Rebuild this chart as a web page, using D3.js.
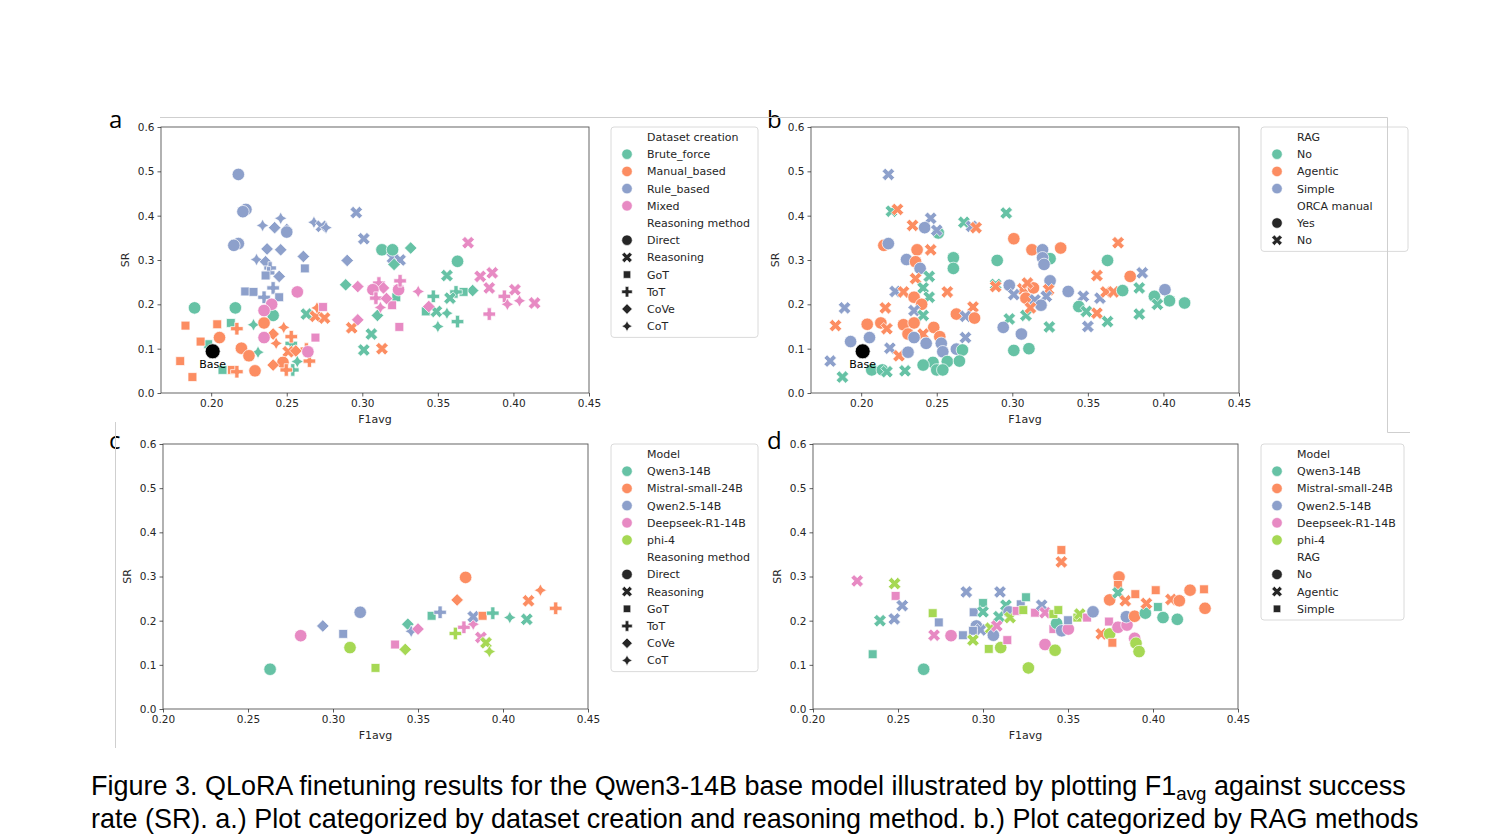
<!DOCTYPE html>
<html><head><meta charset="utf-8">
<script src="https://cdn.jsdelivr.net/npm/d3@7"></script>
<style>body{margin:0;background:#fff}svg{display:block}</style>
</head><body>
<svg id="fig" width="1501" height="839"></svg>
<script>
// ---------- categories ----------
const datasetCats = ['Brute_force','Manual_based','Rule_based','Mixed'];
const reasoningMethods = ['Direct','Reasoning','GoT','ToT','CoVe','CoT'];
const ragCats = ['No','Agentic','Simple'];
const orcaCats = ['Yes','No'];
const modelCats = ['Qwen3-14B','Mistral-small-24B','Qwen2.5-14B','Deepseek-R1-14B','phi-4'];
const xTicks = [0.20,0.25,0.30,0.35,0.40,0.45];
const yTicks = [0.0,0.1,0.2,0.3,0.4,0.5,0.6];
const basePoint = [0.201, 0.094];

// ---------- panel a: [F1avg, SR, dataset creation, reasoning method] ----------
const panelA = [
 [0.218,0.493,'Rule_based','Direct'],[0.223,0.414,'Rule_based','Direct'],[0.221,0.409,'Rule_based','Direct'],
 [0.218,0.337,'Rule_based','Direct'],[0.215,0.333,'Rule_based','Direct'],[0.234,0.378,'Rule_based','CoT'],
 [0.246,0.394,'Rule_based','CoT'],[0.242,0.373,'Rule_based','CoVe'],[0.250,0.369,'Rule_based','CoVe'],
 [0.250,0.363,'Rule_based','Direct'],[0.268,0.385,'Rule_based','CoT'],[0.273,0.376,'Rule_based','Reasoning'],
 [0.276,0.373,'Rule_based','CoT'],[0.296,0.407,'Rule_based','Reasoning'],[0.301,0.348,'Rule_based','Reasoning'],
 [0.237,0.325,'Rule_based','CoVe'],[0.246,0.323,'Rule_based','CoVe'],[0.261,0.308,'Rule_based','CoVe'],
 [0.230,0.301,'Rule_based','CoT'],[0.236,0.296,'Rule_based','CoVe'],[0.290,0.299,'Rule_based','CoVe'],
 [0.320,0.305,'Rule_based','Reasoning'],[0.325,0.300,'Rule_based','Reasoning'],
 [0.239,0.282,'Rule_based','ToT'],[0.238,0.271,'Rule_based','ToT'],[0.236,0.265,'Rule_based','GoT'],
 [0.245,0.263,'Rule_based','CoVe'],[0.262,0.281,'Rule_based','GoT'],[0.2225,0.229,'Rule_based','GoT'],
 [0.228,0.228,'Rule_based','GoT'],[0.241,0.237,'Rule_based','ToT'],[0.235,0.216,'Rule_based','ToT'],
 [0.245,0.216,'Rule_based','GoT'],
 [0.313,0.323,'Brute_force','Direct'],[0.320,0.323,'Brute_force','Direct'],[0.332,0.327,'Brute_force','CoVe'],
 [0.363,0.297,'Brute_force','Direct'],[0.321,0.290,'Brute_force','CoVe'],[0.356,0.265,'Brute_force','Reasoning'],
 [0.373,0.231,'Brute_force','CoVe'],[0.367,0.228,'Brute_force','GoT'],[0.362,0.228,'Brute_force','ToT'],
 [0.358,0.214,'Brute_force','Reasoning'],[0.347,0.218,'Brute_force','ToT'],[0.342,0.184,'Brute_force','GoT'],
 [0.349,0.184,'Brute_force','Reasoning'],[0.356,0.180,'Brute_force','CoT'],[0.350,0.150,'Brute_force','CoT'],
 [0.363,0.161,'Brute_force','ToT'],[0.306,0.133,'Brute_force','Reasoning'],[0.3225,0.216,'Brute_force','GoT'],
 [0.310,0.175,'Brute_force','CoVe'],[0.289,0.244,'Brute_force','CoVe'],[0.301,0.097,'Brute_force','Reasoning'],
 [0.189,0.192,'Brute_force','Direct'],[0.216,0.192,'Brute_force','Direct'],[0.241,0.175,'Brute_force','Direct'],
 [0.213,0.158,'Brute_force','GoT'],[0.228,0.154,'Brute_force','CoT'],[0.198,0.110,'Brute_force','GoT'],
 [0.253,0.112,'Brute_force','ToT'],[0.231,0.092,'Brute_force','CoT'],[0.263,0.178,'Brute_force','Reasoning'],
 [0.257,0.071,'Brute_force','CoT'],[0.254,0.052,'Brute_force','ToT'],[0.2075,0.052,'Brute_force','GoT'],
 [0.183,0.152,'Manual_based','GoT'],[0.204,0.155,'Manual_based','GoT'],[0.217,0.145,'Manual_based','ToT'],
 [0.235,0.158,'Manual_based','Direct'],[0.2055,0.125,'Manual_based','Direct'],[0.193,0.116,'Manual_based','GoT'],
 [0.241,0.133,'Manual_based','CoVe'],[0.248,0.148,'Manual_based','CoT'],[0.243,0.112,'Manual_based','CoT'],
 [0.253,0.127,'Manual_based','ToT'],[0.220,0.101,'Manual_based','Direct'],[0.225,0.084,'Manual_based','Direct'],
 [0.269,0.173,'Manual_based','Reasoning'],[0.275,0.169,'Manual_based','Reasoning'],[0.270,0.192,'Manual_based','CoT'],
 [0.251,0.093,'Manual_based','Reasoning'],[0.263,0.099,'Manual_based','ToT'],[0.2475,0.069,'Manual_based','Direct'],
 [0.241,0.063,'Manual_based','CoVe'],[0.265,0.072,'Manual_based','ToT'],[0.2497,0.052,'Manual_based','ToT'],
 [0.1795,0.072,'Manual_based','GoT'],[0.1876,0.036,'Manual_based','GoT'],[0.2137,0.052,'Manual_based','GoT'],
 [0.217,0.048,'Manual_based','ToT'],[0.229,0.050,'Manual_based','Direct'],[0.293,0.147,'Manual_based','Reasoning'],
 [0.313,0.100,'Manual_based','Reasoning'],[0.256,0.095,'Manual_based','CoVe'],
 [0.257,0.228,'Mixed','Direct'],[0.240,0.200,'Mixed','Direct'],[0.235,0.186,'Mixed','Direct'],
 [0.235,0.125,'Mixed','Direct'],[0.264,0.093,'Mixed','Direct'],[0.274,0.194,'Mixed','GoT'],
 [0.269,0.125,'Mixed','GoT'],[0.370,0.339,'Mixed','Reasoning'],[0.378,0.263,'Mixed','Reasoning'],
 [0.386,0.271,'Mixed','Reasoning'],[0.384,0.237,'Mixed','Reasoning'],[0.401,0.233,'Mixed','Reasoning'],
 [0.414,0.203,'Mixed','Reasoning'],[0.394,0.218,'Mixed','ToT'],[0.384,0.178,'Mixed','ToT'],
 [0.404,0.208,'Mixed','CoT'],[0.396,0.200,'Mixed','CoT'],[0.337,0.229,'Mixed','CoT'],
 [0.344,0.195,'Mixed','CoVe'],[0.3245,0.149,'Mixed','GoT'],[0.3197,0.198,'Mixed','GoT'],
 [0.311,0.248,'Mixed','ToT'],[0.314,0.237,'Mixed','CoVe'],[0.324,0.233,'Mixed','Direct'],
 [0.325,0.253,'Mixed','ToT'],[0.307,0.233,'Mixed','Direct'],[0.309,0.214,'Mixed','ToT'],
 [0.316,0.213,'Mixed','CoVe'],[0.312,0.193,'Mixed','CoT'],[0.297,0.240,'Mixed','CoVe'],
 [0.297,0.165,'Mixed','CoVe']
];

// ---------- panel b: [F1avg, SR, RAG, ORCA manual] ----------
const panelB = [
 [0.218,0.493,'Simple','No'],[0.220,0.410,'No','No'],[0.224,0.414,'Agentic','No'],[0.234,0.378,'Agentic','No'],
 [0.246,0.394,'Simple','No'],[0.242,0.373,'Simple','Yes'],[0.251,0.361,'No','Yes'],[0.250,0.367,'Simple','No'],
 [0.268,0.385,'No','No'],[0.273,0.376,'Simple','No'],[0.276,0.373,'Agentic','No'],[0.296,0.406,'No','No'],
 [0.301,0.348,'Agentic','Yes'],[0.215,0.333,'Agentic','Yes'],[0.218,0.337,'Simple','Yes'],
 [0.237,0.323,'Agentic','Yes'],[0.246,0.323,'Agentic','No'],[0.230,0.301,'Simple','Yes'],[0.236,0.296,'Agentic','Yes'],
 [0.261,0.305,'No','Yes'],[0.261,0.281,'No','Yes'],[0.290,0.299,'No','Yes'],[0.313,0.323,'Agentic','Yes'],
 [0.320,0.323,'Simple','Yes'],[0.332,0.327,'Agentic','Yes'],[0.370,0.339,'Agentic','No'],[0.363,0.299,'No','Yes'],
 [0.325,0.303,'No','Yes'],[0.320,0.305,'Simple','Yes'],[0.321,0.290,'Simple','Yes'],
 [0.239,0.281,'Simple','Yes'],[0.236,0.258,'Agentic','No'],[0.245,0.263,'No','No'],
 [0.2225,0.229,'Simple','No'],[0.228,0.228,'Agentic','No'],[0.241,0.237,'No','No'],[0.245,0.216,'No','No'],
 [0.235,0.216,'Agentic','Yes'],[0.257,0.228,'Agentic','No'],[0.240,0.200,'Agentic','Yes'],[0.235,0.186,'Simple','No'],
 [0.241,0.175,'No','No'],[0.189,0.192,'Simple','No'],[0.216,0.192,'Agentic','No'],[0.183,0.152,'Agentic','No'],
 [0.204,0.155,'Agentic','Yes'],[0.213,0.158,'Agentic','Yes'],[0.217,0.145,'Agentic','No'],[0.228,0.154,'Agentic','Yes'],
 [0.235,0.158,'Agentic','Yes'],[0.248,0.148,'Agentic','Yes'],[0.231,0.133,'Agentic','Yes'],[0.241,0.133,'Agentic','No'],
 [0.235,0.125,'Simple','Yes'],[0.252,0.127,'Agentic','Yes'],[0.243,0.112,'Simple','Yes'],[0.253,0.112,'Simple','Yes'],
 [0.2055,0.125,'Simple','Yes'],[0.193,0.116,'Simple','Yes'],[0.219,0.101,'Simple','No'],[0.225,0.084,'Agentic','No'],
 [0.231,0.092,'Simple','Yes'],[0.269,0.125,'Simple','No'],[0.274,0.194,'Agentic','No'],[0.263,0.178,'Agentic','Yes'],
 [0.269,0.173,'Simple','No'],[0.275,0.169,'Agentic','Yes'],[0.254,0.093,'Simple','Yes'],[0.263,0.099,'Simple','Yes'],
 [0.267,0.097,'No','Yes'],[0.257,0.071,'No','Yes'],[0.265,0.072,'No','Yes'],[0.2475,0.069,'No','Yes'],
 [0.241,0.063,'No','Yes'],[0.250,0.052,'No','Yes'],[0.254,0.052,'No','Yes'],[0.207,0.052,'No','Yes'],
 [0.214,0.052,'No','Yes'],[0.217,0.048,'No','No'],[0.229,0.050,'No','No'],[0.1795,0.072,'Simple','No'],
 [0.1876,0.036,'No','No'],[0.289,0.245,'No','No'],[0.289,0.240,'Agentic','No'],[0.298,0.243,'Simple','Yes'],
 [0.307,0.235,'Agentic','No'],[0.301,0.222,'Simple','No'],[0.298,0.167,'No','No'],[0.294,0.148,'Simple','Yes'],
 [0.306,0.133,'Simple','Yes'],[0.301,0.096,'No','Yes'],[0.311,0.100,'No','Yes'],[0.309,0.175,'No','No'],
 [0.356,0.265,'Agentic','No'],[0.378,0.263,'Agentic','Yes'],[0.386,0.271,'Simple','No'],[0.314,0.237,'Agentic','Yes'],
 [0.310,0.248,'Agentic','No'],[0.325,0.253,'Simple','Yes'],[0.324,0.233,'Agentic','No'],[0.309,0.214,'Agentic','Yes'],
 [0.315,0.210,'Simple','No'],[0.3225,0.218,'Simple','No'],[0.319,0.198,'Simple','Yes'],[0.312,0.192,'Agentic','No'],
 [0.337,0.229,'Simple','Yes'],[0.347,0.218,'Simple','No'],[0.344,0.195,'No','Yes'],[0.349,0.184,'No','No'],
 [0.358,0.214,'Simple','No'],[0.356,0.180,'Agentic','No'],[0.362,0.228,'Agentic','No'],[0.367,0.228,'Agentic','No'],
 [0.373,0.231,'No','Yes'],[0.384,0.237,'No','No'],[0.401,0.233,'Simple','Yes'],[0.394,0.218,'No','Yes'],
 [0.404,0.208,'No','Yes'],[0.414,0.203,'No','Yes'],[0.396,0.200,'No','No'],[0.384,0.178,'No','No'],
 [0.363,0.161,'No','No'],[0.350,0.150,'Simple','No'],[0.3245,0.149,'No','No']
];

// ---------- panel c: [F1avg, SR, model, reasoning method] ----------
const panelC = [
 [0.263,0.090,'Qwen3-14B','Direct'],[0.281,0.166,'Deepseek-R1-14B','Direct'],[0.294,0.188,'Qwen2.5-14B','CoVe'],
 [0.306,0.170,'Qwen2.5-14B','GoT'],[0.316,0.219,'Qwen2.5-14B','Direct'],[0.310,0.139,'phi-4','Direct'],
 [0.325,0.093,'phi-4','GoT'],[0.3365,0.146,'Deepseek-R1-14B','GoT'],[0.3425,0.135,'phi-4','CoVe'],
 [0.344,0.192,'Qwen3-14B','CoVe'],[0.346,0.176,'Qwen2.5-14B','CoT'],[0.350,0.181,'Deepseek-R1-14B','CoVe'],
 [0.358,0.211,'Qwen3-14B','GoT'],[0.363,0.219,'Qwen2.5-14B','ToT'],[0.373,0.247,'Mistral-small-24B','CoVe'],
 [0.378,0.298,'Mistral-small-24B','Direct'],[0.372,0.171,'phi-4','ToT'],[0.377,0.185,'Deepseek-R1-14B','ToT'],
 [0.3825,0.192,'Deepseek-R1-14B','CoT'],[0.3825,0.209,'Qwen2.5-14B','Reasoning'],[0.388,0.211,'Mistral-small-24B','GoT'],
 [0.387,0.162,'Deepseek-R1-14B','Reasoning'],[0.390,0.150,'phi-4','Reasoning'],[0.392,0.130,'phi-4','CoT'],
 [0.394,0.217,'Qwen3-14B','ToT'],[0.404,0.207,'Qwen3-14B','CoT'],[0.414,0.203,'Qwen3-14B','Reasoning'],
 [0.415,0.245,'Mistral-small-24B','Reasoning'],[0.422,0.269,'Mistral-small-24B','CoT'],[0.431,0.228,'Mistral-small-24B','ToT']
];

// ---------- panel d: [F1avg, SR, model, RAG] ----------
const panelD = [
 [0.226,0.290,'Deepseek-R1-14B','Agentic'],[0.248,0.284,'phi-4','Agentic'],[0.2486,0.256,'Deepseek-R1-14B','Simple'],
 [0.2525,0.234,'Qwen2.5-14B','Agentic'],[0.2394,0.200,'Qwen3-14B','Agentic'],[0.2478,0.204,'Qwen2.5-14B','Agentic'],
 [0.2351,0.124,'Qwen3-14B','Simple'],[0.2651,0.090,'Qwen3-14B','No'],[0.2704,0.217,'phi-4','Simple'],
 [0.274,0.196,'Qwen2.5-14B','Simple'],[0.2712,0.167,'Deepseek-R1-14B','Agentic'],[0.2812,0.166,'Deepseek-R1-14B','No'],
 [0.2882,0.167,'Qwen2.5-14B','Simple'],[0.2902,0.265,'Qwen2.5-14B','Agentic'],[0.2945,0.219,'Qwen2.5-14B','Simple'],
 [0.300,0.240,'Qwen3-14B','Simple'],[0.300,0.220,'Qwen3-14B','Agentic'],[0.2961,0.188,'Qwen2.5-14B','No'],
 [0.2986,0.179,'Qwen2.5-14B','Agentic'],[0.2941,0.177,'Qwen2.5-14B','Simple'],[0.2941,0.156,'phi-4','Agentic'],
 [0.3034,0.136,'phi-4','Simple'],[0.3045,0.183,'phi-4','Agentic'],[0.3061,0.167,'Qwen2.5-14B','No'],
 [0.3104,0.139,'phi-4','No'],[0.3143,0.156,'Deepseek-R1-14B','Simple'],[0.3094,0.209,'Qwen3-14B','Agentic'],
 [0.310,0.265,'Qwen2.5-14B','Agentic'],[0.3135,0.235,'Qwen3-14B','Agentic'],[0.3153,0.220,'Qwen2.5-14B','No'],
 [0.3159,0.207,'phi-4','Agentic'],[0.3081,0.188,'Deepseek-R1-14B','Agentic'],[0.3222,0.237,'Qwen2.5-14B','Simple'],
 [0.3198,0.222,'Deepseek-R1-14B','Simple'],[0.3253,0.253,'Qwen3-14B','Simple'],[0.3237,0.224,'phi-4','Simple'],
 [0.3267,0.093,'phi-4','No'],[0.3306,0.218,'Deepseek-R1-14B','Simple'],[0.3345,0.235,'Qwen2.5-14B','Agentic'],
 [0.3365,0.218,'Deepseek-R1-14B','Agentic'],[0.3365,0.146,'Deepseek-R1-14B','No'],[0.3424,0.133,'phi-4','No'],
 [0.3414,0.181,'Deepseek-R1-14B','Simple'],[0.3433,0.194,'Qwen3-14B','No'],[0.3463,0.177,'Qwen2.5-14B','No'],
 [0.3502,0.181,'Deepseek-R1-14B','No'],[0.3414,0.215,'phi-4','Simple'],[0.3443,0.224,'phi-4','Simple'],
 [0.350,0.201,'Qwen2.5-14B','Simple'],[0.3461,0.360,'Mistral-small-24B','Simple'],[0.3461,0.333,'Mistral-small-24B','Agentic'],
 [0.3555,0.207,'phi-4','Simple'],[0.3569,0.215,'phi-4','Agentic'],[0.3612,0.207,'Deepseek-R1-14B','Simple'],
 [0.3647,0.220,'Qwen2.5-14B','No'],[0.3696,0.170,'Mistral-small-24B','Agentic'],[0.3745,0.170,'phi-4','No'],
 [0.3741,0.198,'Deepseek-R1-14B','Simple'],[0.3761,0.150,'Mistral-small-24B','Simple'],[0.3745,0.247,'Mistral-small-24B','No'],
 [0.380,0.299,'Mistral-small-24B','No'],[0.3794,0.281,'Mistral-small-24B','Simple'],[0.3794,0.263,'Qwen3-14B','Agentic'],
 [0.3837,0.245,'Mistral-small-24B','Agentic'],[0.3794,0.185,'Deepseek-R1-14B','No'],[0.3847,0.190,'Deepseek-R1-14B','No'],
 [0.3843,0.209,'Qwen2.5-14B','No'],[0.3892,0.210,'Mistral-small-24B','No'],[0.3896,0.260,'Mistral-small-24B','Simple'],
 [0.3892,0.160,'Deepseek-R1-14B','No'],[0.390,0.149,'phi-4','No'],[0.3918,0.130,'phi-4','No'],
 [0.3955,0.217,'Qwen3-14B','No'],[0.3961,0.239,'Mistral-small-24B','Agentic'],[0.4016,0.269,'Mistral-small-24B','Simple'],
 [0.4029,0.231,'Qwen3-14B','Simple'],[0.4059,0.207,'Qwen3-14B','No'],[0.4106,0.248,'Mistral-small-24B','Agentic'],
 [0.4155,0.245,'Mistral-small-24B','No'],[0.4143,0.203,'Qwen3-14B','No'],[0.4218,0.269,'Mistral-small-24B','No'],
 [0.430,0.271,'Mistral-small-24B','Simple'],[0.4306,0.228,'Mistral-small-24B','No']
];

const captionLines = [
 ['Figure 3. QLoRA finetuning results for the Qwen3-14B base model illustrated by plotting F1', 'avg', ' against success'],
 ['rate (SR). a.) Plot categorized by dataset creation and reasoning method. b.) Plot categorized by RAG methods']
];

// ---------- styling ----------
const palette = ['#66c2a5','#fc8d62','#8da0cb','#e78ac3','#a6d854'];
const methodShapes = {Direct:'circle',Reasoning:'x',GoT:'square',ToT:'plus',CoVe:'diamond',CoT:'star'};
const FONT = 'DejaVu Sans, sans-serif';
const svg = d3.select('#fig');
svg.append('rect').attr('width',1501).attr('height',839).attr('fill','#fff');

function shapePath(shape, size){
  const h = size/2;
  const poly = pts => 'M' + pts.map(p=>p[0].toFixed(2)+','+p[1].toFixed(2)).join('L') + 'Z';
  if (shape==='circle') return d3.symbol(d3.symbolCircle, Math.PI*h*h)();
  if (shape==='x') return poly([[-1,-2],[0,-1],[1,-2],[2,-1],[1,0],[2,1],[1,2],[0,1],[-1,2],[-2,1],[-1,0],[-2,-1]].map(p=>[p[0]*size/4,p[1]*size/4]));
  if (shape==='plus') return poly([[-1,-3],[1,-3],[1,-1],[3,-1],[3,1],[1,1],[1,3],[-1,3],[-1,1],[-3,1],[-3,-1],[-1,-1]].map(p=>[p[0]*size/6,p[1]*size/6]));
  if (shape==='square') { const s=h/Math.SQRT2; return poly([[-s,-s],[s,-s],[s,s],[-s,s]]); }
  if (shape==='diamond') return poly([[0,-h],[h,0],[0,h],[-h,0]]);
  if (shape==='star') { const pts=[]; for(let i=0;i<8;i++){const r=i%2?h*0.5:h; const a=i*Math.PI/4; pts.push([r*Math.sin(a),-r*Math.cos(a)]);} return poly(pts); }
}

function drawPanel(cfg){
  const g = svg.append('g');
  const x = d3.scaleLinear().domain(cfg.xDomain).range([cfg.left,cfg.right]);
  const y = d3.scaleLinear().domain([0,0.6]).range([cfg.bottom,cfg.top]);
  g.selectAll('path.pt').data(cfg.data).enter().append('path')
    .attr('d', d=>shapePath(cfg.shape(d), 12.5))
    .attr('transform', d=>`translate(${x(d[0])},${y(d[1])})`)
    .attr('fill', d=>cfg.color(d)).attr('stroke','#fff').attr('stroke-width',0.7);
  if (cfg.base){
    g.append('circle').attr('cx',x(basePoint[0])).attr('cy',y(basePoint[1])).attr('r',7.5).attr('fill','#000').attr('stroke','#fff').attr('stroke-width',0.7);
    g.append('text').attr('x',x(basePoint[0])).attr('y',y(basePoint[1])+17).attr('text-anchor','middle')
      .attr('font-family',FONT).attr('font-size',11).attr('fill','#000').text('Base');
  }
  g.append('rect').attr('x',cfg.left).attr('y',cfg.top).attr('width',cfg.right-cfg.left).attr('height',cfg.bottom-cfg.top)
    .attr('fill','none').attr('stroke','#555').attr('stroke-width',0.9);
  const xa = g.append('g').attr('transform',`translate(0,${cfg.bottom})`)
    .call(d3.axisBottom(x).tickValues(xTicks).tickFormat(d3.format('.2f')).tickSize(3.5).tickPadding(3));
  const ya = g.append('g').attr('transform',`translate(${cfg.left},0)`)
    .call(d3.axisLeft(y).tickValues(yTicks).tickFormat(d3.format('.1f')).tickSize(3.5).tickPadding(3));
  [xa,ya].forEach(a=>{ a.select('.domain').remove(); a.selectAll('line').attr('stroke','#333').attr('stroke-width',0.8);
    a.selectAll('text').attr('font-family',FONT).attr('font-size',10.5).attr('fill','#262626'); });
  g.append('text').attr('x',(cfg.left+cfg.right)/2).attr('y',cfg.bottom+30).attr('text-anchor','middle')
    .attr('font-family',FONT).attr('font-size',11).attr('fill','#262626').text('F1avg');
  g.append('text').attr('transform',`translate(${cfg.left-32},${(cfg.top+cfg.bottom)/2}) rotate(-90)`).attr('text-anchor','middle')
    .attr('font-family',FONT).attr('font-size',11).attr('fill','#262626').text('SR');
  svg.append('text').attr('x',cfg.letterX).attr('y',cfg.letterY).attr('font-family','Open Sans, Liberation Sans, sans-serif')
    .attr('font-size',24).attr('fill','#000').text(cfg.letter);
  const L = cfg.legend;
  const lg = svg.append('g');
  const rowsH = L.rows.length*17.2 + 4;
  lg.append('rect').attr('x',L.x).attr('y',cfg.top).attr('width',L.w).attr('height',rowsH).attr('rx',3)
    .attr('fill','#fff').attr('fill-opacity',0.8).attr('stroke','#d6d6d6').attr('stroke-width',0.9);
  L.rows.forEach((r,i)=>{
    const cy = cfg.top + 10 + i*17.2;
    if (r.shape) lg.append('path').attr('d',shapePath(r.shape, 10.5)).attr('transform',`translate(${L.x+16},${cy})`)
      .attr('fill', r.color).attr('stroke','#fff').attr('stroke-width',0.6);
    lg.append('text').attr('x',L.x+36).attr('y',cy+4).attr('font-family',FONT).attr('font-size',11).attr('fill','#262626').text(r.label);
  });
}

const dark = '#262626';
const catRows = (title, cats) => [{label:title}].concat(cats.map((c,i)=>({label:c, shape:'circle', color:palette[i]})));
const methodRows = [{label:'Reasoning method'}].concat(reasoningMethods.map(m=>({label:m, shape:methodShapes[m], color:dark})));

drawPanel({letter:'a', letterX:109, letterY:128, left:161,right:589,top:127,bottom:393, xDomain:[0.1668,0.45], data:panelA, base:true,
  color:d=>palette[datasetCats.indexOf(d[2])], shape:d=>methodShapes[d[3]],
  legend:{x:611,w:147, rows: catRows('Dataset creation', datasetCats).concat(methodRows)}});
drawPanel({letter:'b', letterX:767, letterY:128, left:811,right:1239,top:127,bottom:393, xDomain:[0.1668,0.45], data:panelB, base:true,
  color:d=>palette[ragCats.indexOf(d[2])], shape:d=>d[3]==='Yes'?'circle':'x',
  legend:{x:1261,w:147, rows: catRows('RAG', ragCats).concat([{label:'ORCA manual'},{label:'Yes',shape:'circle',color:dark},{label:'No',shape:'x',color:dark}])}});
drawPanel({letter:'c', letterX:109, letterY:449, left:163,right:588,top:444,bottom:709, xDomain:[0.20,0.45], data:panelC,
  color:d=>palette[modelCats.indexOf(d[2])], shape:d=>methodShapes[d[3]],
  legend:{x:611,w:147, rows: catRows('Model', modelCats).concat(methodRows)}});
drawPanel({letter:'d', letterX:767, letterY:449, left:813,right:1238,top:444,bottom:709, xDomain:[0.20,0.45], data:panelD,
  color:d=>palette[modelCats.indexOf(d[2])], shape:d=>({No:'circle',Agentic:'x',Simple:'square'})[d[3]],
  legend:{x:1261,w:143, rows: catRows('Model', modelCats).concat([{label:'RAG'},{label:'No',shape:'circle',color:dark},{label:'Agentic',shape:'x',color:dark},{label:'Simple',shape:'square',color:dark}])}});

const deco = svg.append('g').attr('stroke','#cfcfcf').attr('stroke-width',1).attr('fill','none');
deco.append('path').attr('d','M160,117.5H1387.5V432.5H1410');
deco.append('path').attr('d','M115.5,422V748');

const cap = svg.append('g').attr('font-family','Liberation Sans, Arial, sans-serif').attr('fill','#000');
const targetW = [1315, 1328];
captionLines.forEach((parts,i)=>{
  const t = cap.append('text').attr('x',91).attr('y',795+i*33).attr('font-size',26);
  parts.forEach((p,j)=>{
    const ts = t.append('tspan').text(p);
    if (p==='avg'){ ts.attr('font-size',18).attr('dy',5); }
    else if (j>0 && parts[j-1]==='avg'){ ts.attr('dy',-5); }
  });
  const w = t.node().getComputedTextLength();
  t.attr('font-size', 26*targetW[i]/w);
  t.selectAll('tspan').filter(function(){return this.textContent==='avg';}).attr('font-size',18*targetW[i]/w);
});
</script>
</body></html>
